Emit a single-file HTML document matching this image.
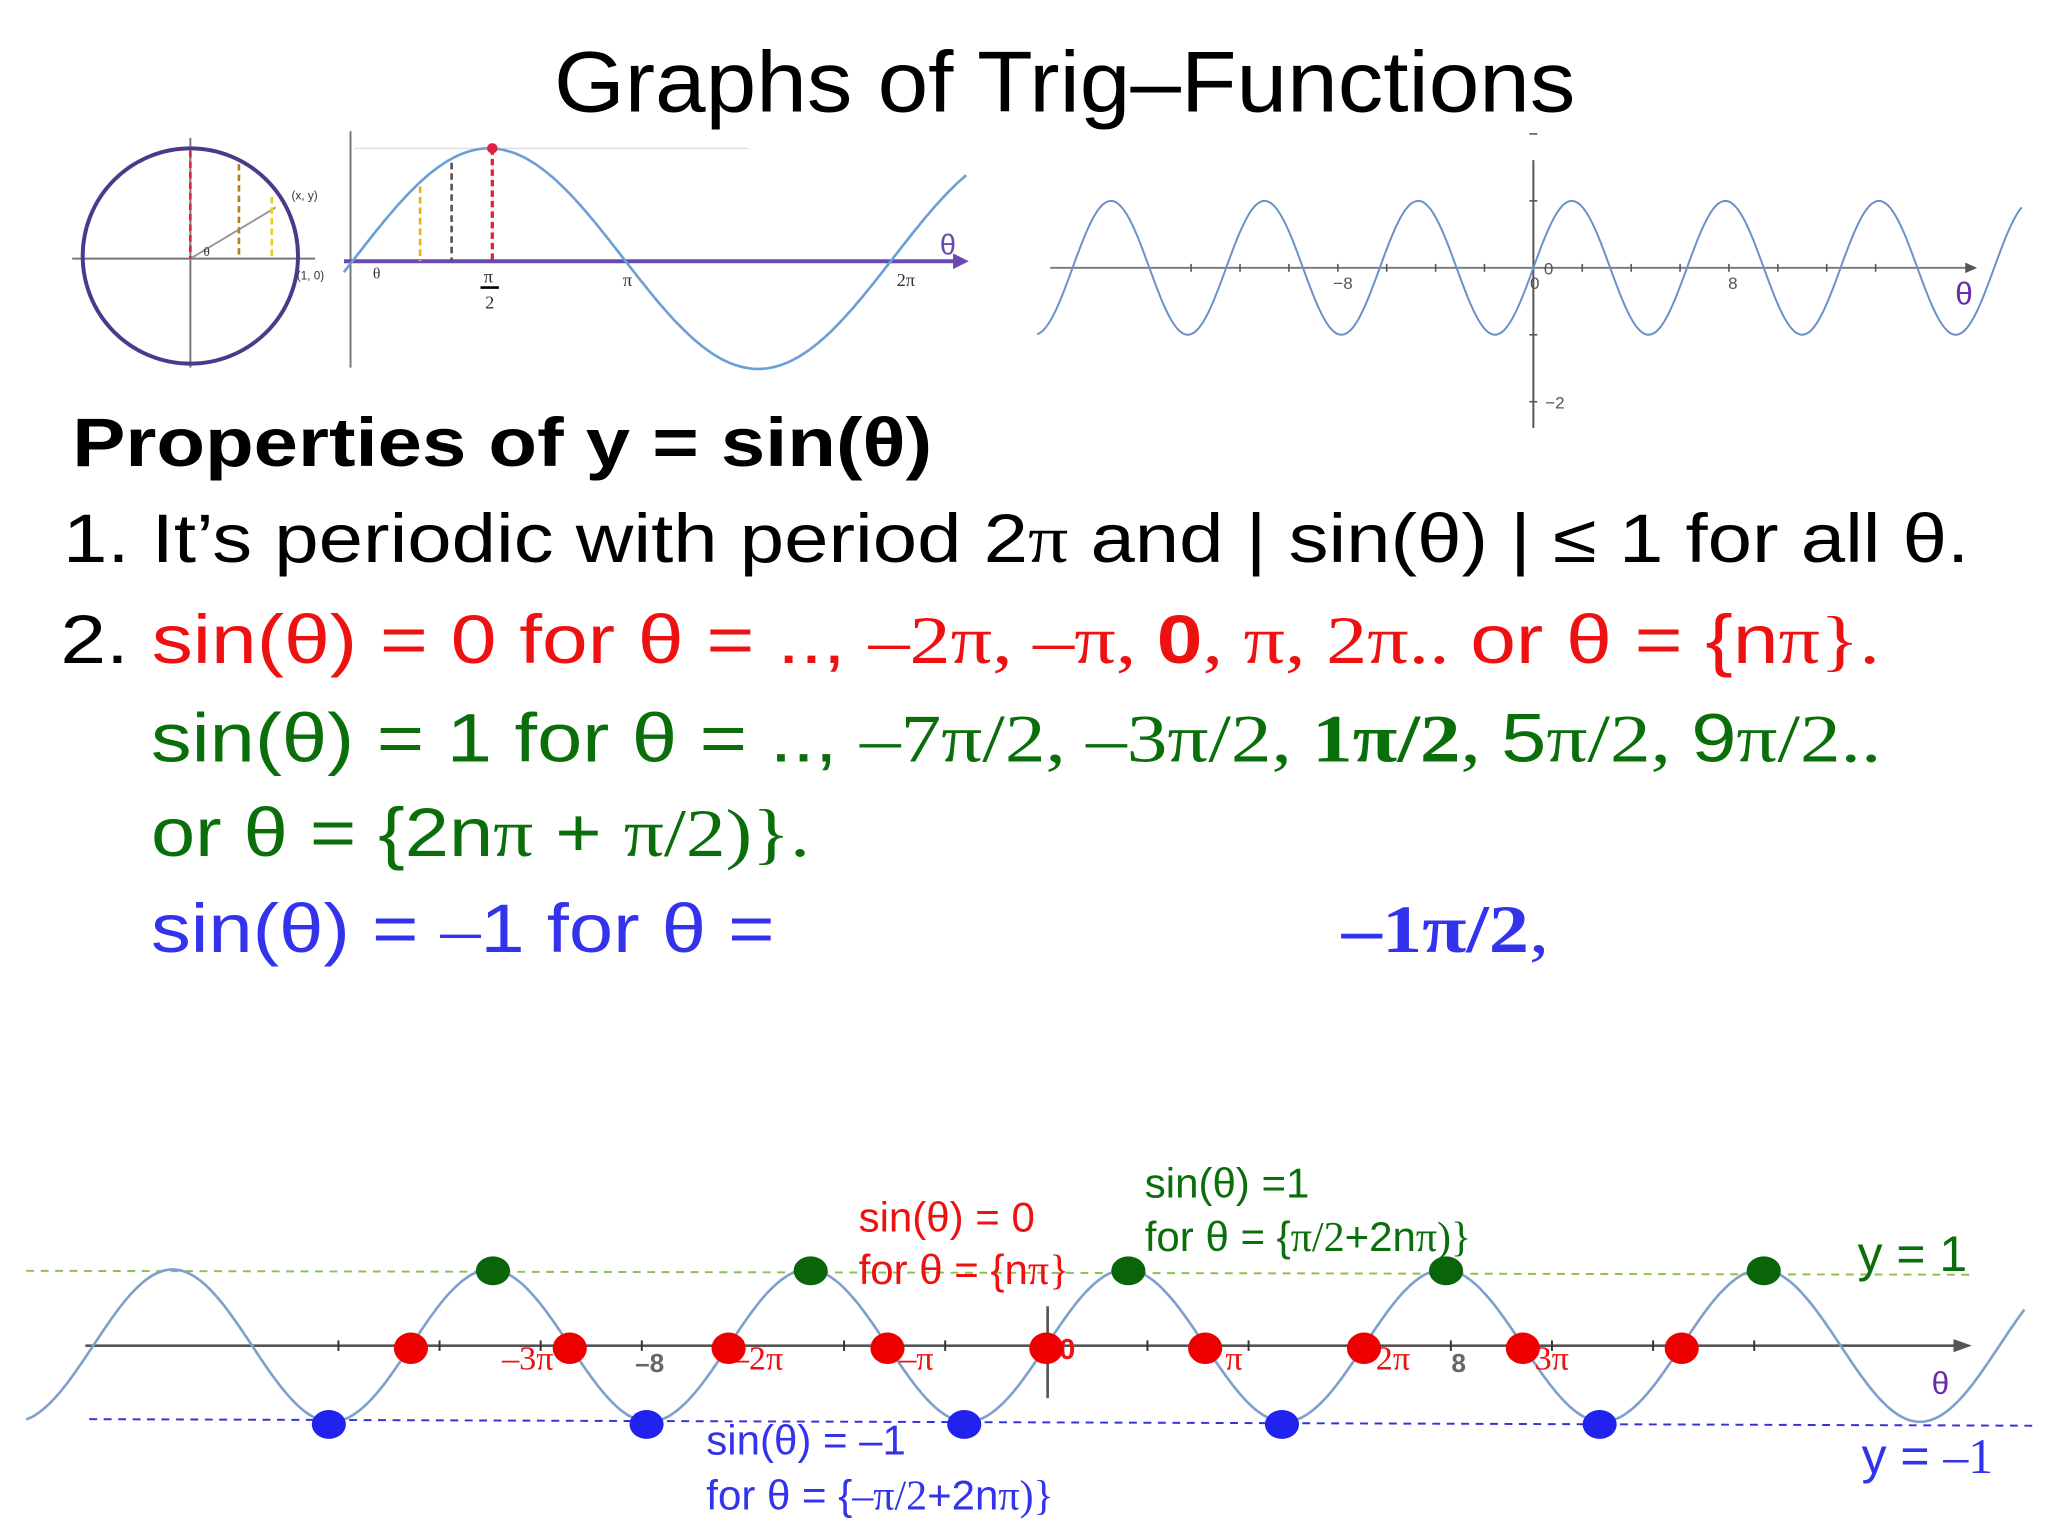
<!DOCTYPE html>
<html><head><meta charset="utf-8"><style>
html,body{margin:0;padding:0;background:#fff;}
svg{display:block;}
.s{font-family:"Liberation Sans",sans-serif;}
.r{font-family:"Liberation Serif",serif;}
</style></head><body>
<svg id="svg" width="2048" height="1536" viewBox="0 0 1560 1170" xmlns="http://www.w3.org/2000/svg">
<rect width="1560" height="1170" fill="#fff"/>
<text class="s" x="422" y="85" font-size="66" textLength="778" lengthAdjust="spacingAndGlyphs" fill="#000">Graphs of Trig–Functions</text>

<g>
<line x1="55" y1="197" x2="240" y2="197" stroke="#777" stroke-width="1.5"/>
<line x1="145" y1="105" x2="145" y2="280" stroke="#777" stroke-width="1.5"/>
<circle cx="145" cy="195" r="82" fill="none" stroke="#4a3a8a" stroke-width="3"/>
<line x1="145" y1="197" x2="210" y2="158" stroke="#999" stroke-width="1.5"/>
<line x1="145" y1="115" x2="145" y2="197" stroke="#e02040" stroke-width="2" stroke-dasharray="5,3"/>
<line x1="182" y1="125" x2="182" y2="197" stroke="#b08020" stroke-width="2" stroke-dasharray="5,3"/>
<line x1="207" y1="150" x2="207" y2="197" stroke="#e8d020" stroke-width="2" stroke-dasharray="5,3"/>
<text class="s" x="222" y="152" font-size="9" fill="#333">(x, y)</text>
<text class="s" x="226" y="213" font-size="9" fill="#333">(1, 0)</text>
<text class="r" x="155" y="195" font-size="10" fill="#333">θ</text>
</g>
<g>
<line x1="267" y1="100" x2="267" y2="280" stroke="#777" stroke-width="1.5"/>
<line x1="270" y1="113" x2="570" y2="113" stroke="#ddd" stroke-width="1"/>
<line x1="262" y1="199" x2="730" y2="199" stroke="#6a4ab0" stroke-width="3"/>
<polygon points="738,199 726,193 726,205" fill="#6a4ab0"/>
<path id="smallSine" fill="none" stroke="#6aa0d8" stroke-width="2"/>
<line x1="375" y1="113" x2="375" y2="199" stroke="#e02040" stroke-width="2.5" stroke-dasharray="5,3"/>
<line x1="344" y1="124" x2="344" y2="199" stroke="#555" stroke-width="2" stroke-dasharray="5,3"/>
<line x1="320" y1="142" x2="320" y2="199" stroke="#e8b020" stroke-width="2" stroke-dasharray="5,3"/>
<circle cx="375" cy="113" r="4" fill="#e02040"/>
<text class="r" x="372" y="215" font-size="14" text-anchor="middle" fill="#333">π</text>
<line x1="366" y1="219" x2="380" y2="219" stroke="#000" stroke-width="2"/>
<text class="r" x="373" y="235" font-size="14" text-anchor="middle" fill="#333">2</text>
<text class="r" x="478" y="218" font-size="14" text-anchor="middle" fill="#333">π</text>
<text class="r" x="690" y="218" font-size="14" text-anchor="middle" fill="#333">2π</text>
<text class="r" x="284" y="212" font-size="12" fill="#333">θ</text>
<text class="s" x="722" y="194" font-size="22" text-anchor="middle" fill="#6a4ab0">θ</text>
</g>

<g>
<line x1="800" y1="204" x2="1500" y2="204" stroke="#777" stroke-width="1.5"/>
<polygon points="1506,204 1497,200 1497,208" fill="#555"/>
<line x1="1168" y1="122" x2="1168" y2="326" stroke="#555" stroke-width="1.5"/>
<path id="topSine" fill="none" stroke="#6a90c8" stroke-width="1.5"/>
<g id="topTicks" stroke="#555" stroke-width="1.2"></g>
<text class="s" x="1023" y="220" font-size="13" text-anchor="middle" fill="#555">−8</text>
<text class="s" x="1320" y="220" font-size="13" text-anchor="middle" fill="#555">8</text>
<text class="s" x="1176" y="209" font-size="13" fill="#555">0</text>
<text class="s" x="1169" y="220" font-size="13" text-anchor="middle" fill="#555">0</text>
<text class="s" x="1177" y="311" font-size="13" fill="#555">−2</text>
<text class="s" x="1496" y="232" font-size="24" text-anchor="middle" fill="#6a2ab0">θ</text>
</g>

<text class="s" x="55" y="355" font-size="52" font-weight="bold" fill="#000" textLength="655" lengthAdjust="spacingAndGlyphs">Properties of y = sin(θ)</text>
<text class="s" x="48" y="428" font-size="52" fill="#000" textLength="1452" lengthAdjust="spacingAndGlyphs">1. It’s periodic with period 2<tspan class="r">π</tspan> and | sin(θ) | ≤ 1 for all θ.</text>
<text class="s" x="46" y="505" font-size="52" fill="#ee1111" textLength="1386" lengthAdjust="spacingAndGlyphs"><tspan fill="#000">2. </tspan>sin(θ) = 0 for θ = .., <tspan class="r">–2π, –π, </tspan><tspan font-weight="bold">0</tspan><tspan class="r">, π, 2π.. </tspan> or θ = {n<tspan class="r">π}.</tspan></text>
<text class="s" x="115" y="580" font-size="52" fill="#0a6e0a" textLength="1318" lengthAdjust="spacingAndGlyphs">sin(θ) = 1 for θ = .., <tspan class="r">–7π/2, –3π/2, </tspan><tspan class="r" font-weight="bold">1π/2</tspan><tspan class="r">, </tspan>5<tspan class="r">π/2, </tspan>9<tspan class="r">π/2..</tspan></text>
<text class="s" x="115" y="652" font-size="52" fill="#0a6e0a" textLength="502" lengthAdjust="spacingAndGlyphs">or θ = {2n<tspan class="r">π</tspan> + <tspan class="r">π/2)}.</tspan></text>
<text class="s" x="115" y="725" font-size="52" fill="#3333ee" textLength="475" lengthAdjust="spacingAndGlyphs">sin(θ) = <tspan class="r">–</tspan>1 for θ =</text>
<text class="r" x="1022" y="725" font-size="52" font-weight="bold" fill="#3333ee" textLength="158" lengthAdjust="spacingAndGlyphs">–1π/2<tspan font-weight="normal">,</tspan></text>

<g id="bottomChart">
<line id="yOneLine" x1="20" x2="1505" stroke="#8bc34a" stroke-width="1.5" stroke-dasharray="6,5"/>
<line id="yMinusOneLine" x1="68" x2="1550" stroke="#3333dd" stroke-width="1.5" stroke-dasharray="6,5"/>
<line id="xAxis" x1="65" x2="1495" stroke="#555" stroke-width="2"/>
<polygon id="xArrow" fill="#555"/>
<line id="yAxis" stroke="#555" stroke-width="2"/>
<g id="ticks" stroke="#333" stroke-width="1.5"></g>
<path id="bigSine" fill="none" stroke="#7f9fcf" stroke-width="2"/>
<g id="labels"></g>
<g id="dots"></g>
<text class="s" x="1478" y="1062" font-size="24" text-anchor="middle" fill="#6a2ab0">θ</text>
<text class="s" x="654" y="938" font-size="32" fill="#ee1111">sin(θ) = 0</text>
<text class="s" x="654" y="978" font-size="32" fill="#ee1111">for θ = {n<tspan class="r">π}</tspan></text>
<text class="s" x="872" y="912" font-size="32" fill="#0a6e0a">sin(θ) =1</text>
<text class="s" x="872" y="953" font-size="32" fill="#0a6e0a">for θ = {<tspan class="r">π/2</tspan>+2n<tspan class="r">π)}</tspan></text>
<text class="s" x="1415" y="968" font-size="38" fill="#0a6e0a">y = 1</text>
<text class="s" x="538" y="1108" font-size="32" fill="#3333ee">sin(θ) = –1</text>
<text class="s" x="538" y="1150" font-size="32" fill="#3333ee">for θ = {<tspan class="r">–π/2</tspan>+2n<tspan class="r">π)}</tspan></text>
<text class="s" x="1418" y="1122" font-size="38" fill="#3333ee">y = <tspan class="r">–1</tspan></text>
</g>
</svg>
<script>
const zeroMultiples = [-4, -3, -2, -1, 0, 1, 2, 3, 4];
const peakMultiples = [-3.5, -1.5, 0.5, 2.5, 4.5];
const troughMultiples = [-4.5, -2.5, -0.5, 1.5, 3.5];
const piLabelMultiples = [-3, -2, -1, 0, 1, 2, 3];
const piLabelTexts = ['–3π', '–2π', '–π', '0', 'π', '2π', '3π'];
const numTickValues = [-8, 8];
const numTickTexts = ['–8', '8'];
const tickValues = [-14, -12, -10, -6, -4, -2, 2, 4, 6, 10, 12, 14];
const sineAmplitude = [1, -1];

const NS = 'http://www.w3.org/2000/svg';
const X0 = 797, PX = 121, Y0 = 1025, AY = 58;
const xs = m => X0 + m * PX;
const xv = v => X0 + v / Math.PI * PX;
const ys = v => Y0 - v * AY;
function mk(tag, attrs, parent) { const e = document.createElementNS(NS, tag); for (const k in attrs) e.setAttribute(k, attrs[k]); parent.appendChild(e); return e; }

document.getElementById('yOneLine').setAttribute('y1', ys(sineAmplitude[0]) + 1);
document.getElementById('yOneLine').setAttribute('y2', ys(sineAmplitude[0]) + 4);
document.getElementById('yMinusOneLine').setAttribute('y1', ys(sineAmplitude[1]) - 2);
document.getElementById('yMinusOneLine').setAttribute('y2', ys(sineAmplitude[1]) + 3);
document.getElementById('xAxis').setAttribute('y1', Y0); document.getElementById('xAxis').setAttribute('y2', Y0);
document.getElementById('xArrow').setAttribute('points', `1502,${Y0} 1488,${Y0-5} 1488,${Y0+5}`);
const ya = document.getElementById('yAxis');
ya.setAttribute('x1', xs(0) + 1); ya.setAttribute('x2', xs(0) + 1); ya.setAttribute('y1', 995); ya.setAttribute('y2', 1065);

let d = '';
for (let x = 20; x <= 1542; x += 2) { const v = Math.sin((x - X0) / PX * Math.PI); d += (x === 20 ? 'M' : 'L') + x + ',' + ys(v).toFixed(1); }
document.getElementById('bigSine').setAttribute('d', d);

const tk = document.getElementById('ticks');
tickValues.concat(numTickValues).forEach(v => { const t = mk('line', { x1: xv(v), x2: xv(v), y1: Y0 - 4, y2: Y0 + 4 }, tk);

 });

const lab = document.getElementById('labels');
numTickValues.forEach((v, i) => { const t = mk('text', { x: xv(v) + 6, y: Y0 + 20, 'font-size': 20, 'text-anchor': 'middle', fill: '#666', class: 's', 'font-weight': 'bold' }, lab); t.textContent = numTickTexts[i];

 });
piLabelMultiples.forEach((m, i) => {
  const off = m === -3 ? -32 : (m === 0 ? 16 : 22);
  const t = mk('text', { x: xs(m) + off, y: Y0 + (m === 0 ? 10 : 18), 'font-size': m === 0 ? 22 : 26, 'text-anchor': 'middle', fill: '#ee1111', class: m === 0 ? 's' : 'r', 'font-weight': m === 0 ? 'bold' : 'normal' }, lab); t.textContent = piLabelTexts[i];

 });

const dots = document.getElementById('dots');
zeroMultiples.forEach(m => { const c = mk('ellipse', { cx: xs(m), cy: Y0 + 2, rx: 13, ry: 12, fill: '#ee0000' }, dots);

 });
peakMultiples.forEach(m => { const c = mk('ellipse', { cx: xs(m) + 2, cy: ys(Math.sin(m * Math.PI)) + 1, rx: 13, ry: 11, fill: '#0a640a' }, dots);

 });
troughMultiples.forEach(m => { const c = mk('ellipse', { cx: xs(m) - 2, cy: ys(Math.sin(m * Math.PI)) + 2, rx: 13, ry: 11, fill: '#2222ee' }, dots);

 });

const TX0 = 1168, TP = 117 / (2 * Math.PI), TY0 = 204, TA = 51;
let d2 = '';
for (let x = 790; x <= 1540; x += 2) { const v = Math.sin((x - TX0) / TP); d2 += (x === 790 ? 'M' : 'L') + x + ',' + (TY0 - v * TA).toFixed(1); }
document.getElementById('topSine').setAttribute('d', d2);
const tt = document.getElementById('topTicks');
for (let v = -14; v <= 14; v += 2) { if (v === 0) continue; const t = mk('line', { x1: TX0 + v * TP, x2: TX0 + v * TP, y1: TY0 - 3, y2: TY0 + 3 }, tt);

 }
[-2, -1, 1, 2].forEach(v => { const t = mk('line', { x1: TX0 - 3, x2: TX0 + 3, y1: TY0 - v * TA, y2: TY0 - v * TA }, tt);

 });

let d3 = '';
const SX0 = 270, SP = 205 / Math.PI, SY0 = 197, SA = 84;
for (let x = 262; x <= 736; x += 2) { const v = Math.sin((x - SX0) / SP); d3 += (x === 262 ? 'M' : 'L') + x + ',' + (SY0 - v * SA).toFixed(1); }
document.getElementById('smallSine').setAttribute('d', d3);
</script>
</body></html>
